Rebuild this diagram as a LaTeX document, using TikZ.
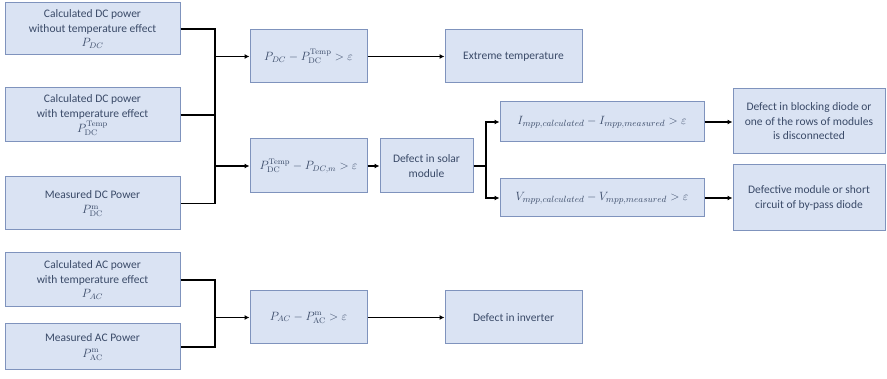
\documentclass[tikz,border=0pt]{standalone}
\usepackage[no-math]{fontspec}
\setmainfont{Carlito}
\usetikzlibrary{arrows.meta}
\definecolor{boxfill}{HTML}{DAE3F3}
\definecolor{boxdraw}{HTML}{7F93BD}
\definecolor{txt}{HTML}{3A4A68}
\begin{document}
\begin{tikzpicture}[x=1pt,y=-1pt,
  box/.style={draw=boxdraw,fill=boxfill,line width=1pt,text=txt,align=center,
    inner sep=2pt,font=\fontsize{11.5}{14.5}\selectfont},
  wire/.style={line width=1.3pt,black},
  arr/.style={wire,-{Latex[length=5pt,width=5pt]}}]
\useasboundingbox (0,0) rectangle (887,379);
% input boxes
\node[box,minimum width=175pt,minimum height=52pt] (b1) at (92.5,29) {Calculated DC power\\without temperature effect\\$P_{DC}$};
\node[box,minimum width=175pt,minimum height=54pt] (b2) at (92.5,115) {Calculated DC power\\with temperature effect\\[1pt]$P^{\mathrm{Temp}}_{\mathrm{DC}}$};
\node[box,minimum width=175pt,minimum height=53pt] (b3) at (92.5,203.5) {Measured DC Power\\[1pt]$P^{\mathrm{m}}_{\mathrm{DC}}$};
\node[box,minimum width=175pt,minimum height=54pt] (b4) at (92.5,280) {Calculated AC power\\with temperature effect\\$P_{AC}$};
\node[box,minimum width=175pt,minimum height=46pt] (b5) at (92.5,347) {Measured AC Power\\[1pt]$P^{\mathrm{m}}_{\mathrm{AC}}$};
% condition boxes
\node[box,minimum width=117pt,minimum height=53pt] (f1) at (308.5,56.5) {$P_{DC}-P^{\mathrm{Temp}}_{\mathrm{DC}}>\varepsilon$};
\node[box,minimum width=117pt,minimum height=54pt] (f2) at (308.5,166) {$P^{\mathrm{Temp}}_{\mathrm{DC}}-P_{DC,m}>\varepsilon$};
\node[box,minimum width=117pt,minimum height=53pt] (f3) at (308.5,317.5) {$P_{AC}-P^{\mathrm{m}}_{\mathrm{AC}}>\varepsilon$};
% result boxes
\node[box,minimum width=137pt,minimum height=53pt] (r1) at (513.5,56.5) {Extreme temperature};
\node[box,minimum width=137pt,minimum height=53pt] (r3) at (513.5,317.5) {Defect in inverter};
\node[box,minimum width=93pt,minimum height=54pt] (ds) at (426.5,166) {Defect in solar\\module};
\node[box,minimum width=204pt,minimum height=40pt,font=\fontsize{12.5}{15}\selectfont] (fi) at (602,122) {$I_{mpp,calculated}-I_{mpp,measured}>\varepsilon$};
\node[box,minimum width=204pt,minimum height=38pt,font=\fontsize{12.5}{15}\selectfont] (fv) at (602,198) {$V_{mpp,calculated}-V_{mpp,measured}>\varepsilon$};
\node[box,minimum width=152pt,minimum height=65pt] (rb) at (809,121.5) {Defect in blocking diode or\\one of the rows of modules\\is disconnected};
\node[box,minimum width=152pt,minimum height=66pt] (rm) at (809,198) {Defective module or short\\circuit of by-pass diode};
% bus coordinates
\coordinate (bx) at (215,0);
\coordinate (sx) at (486,0);
% DC bus
\draw[wire] (b1.east) -- (b1.east -| bx) -- (b3.east -| bx) -- (b3.east);
\draw[wire] (b2.east) -- (b2.east -| bx);
\draw[arr] (f1.west -| bx) -- (f1.west);
\draw[arr] (f2.west -| bx) -- (f2.west);
% AC bus
\draw[wire] (b4.east) -- (b4.east -| bx) -- (b5.east -| bx) -- (b5.east);
\draw[arr] (f3.west -| bx) -- (f3.west);
% chains
\draw[arr] (f1) -- (r1);
\draw[arr] (f3) -- (r3);
\draw[arr] (f2) -- (ds);
\draw[wire] (ds.east) -- (ds.east -| sx);
\draw[arr] (ds.east -| sx) |- (fi.west);
\draw[arr] (ds.east -| sx) |- (fv.west);
\draw[arr] (fi.east) -- (fi.east -| rb.west);
\draw[arr] (fv.east) -- (fv.east -| rm.west);
\end{tikzpicture}
\end{document}
